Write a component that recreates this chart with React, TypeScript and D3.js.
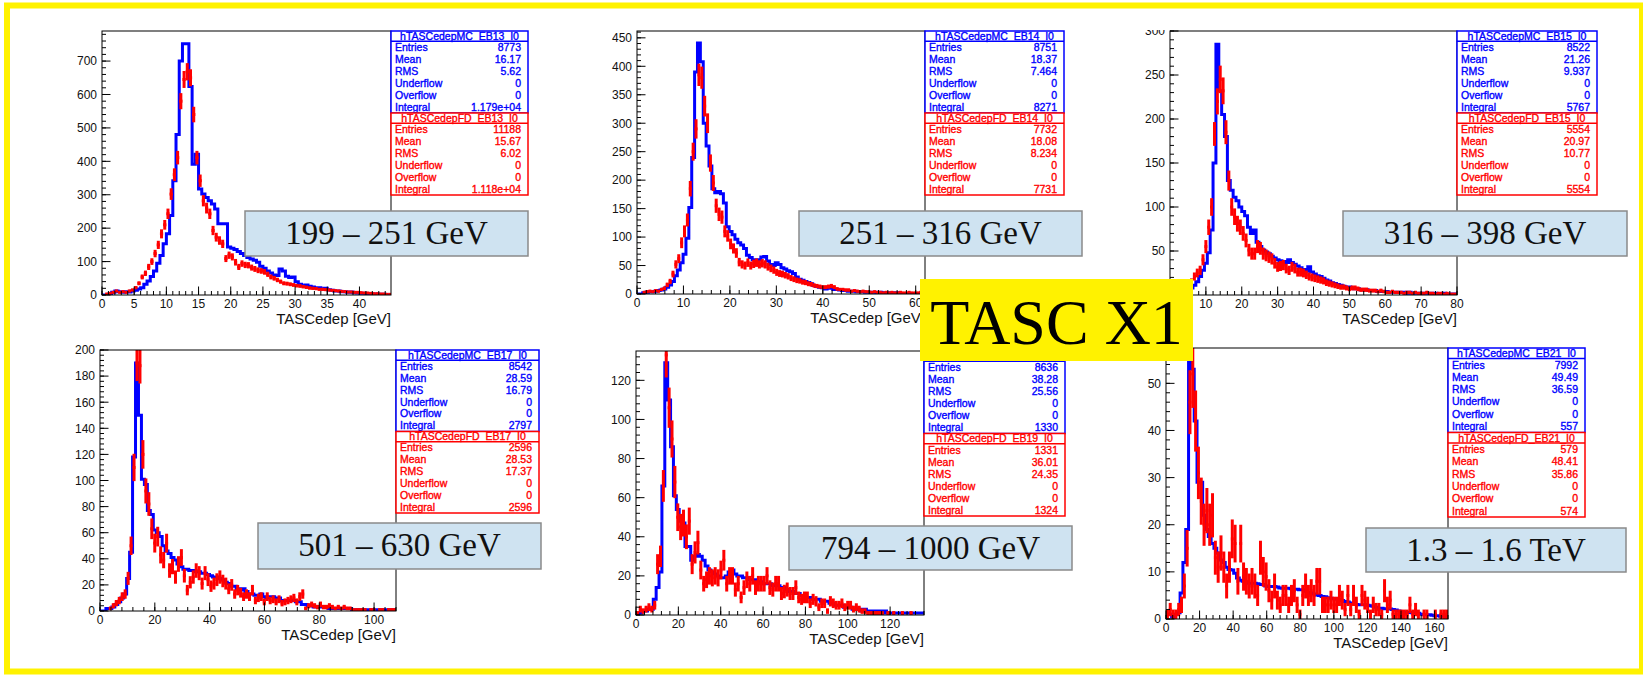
import React from "react";
import * as d3 from "d3";

// ---- Histogram contents (bin counts, bins start at 0 GeV) ----
const mcEB13 = [0,0,2,8,12,10,8,10,9,12,
  14,18,22,32,42,55,72,95,118,153,
  183,238,342,480,700,752,752,624,391,421,
  317,302,292,282,272,257,213,213,213,144,
  140,136,130,124,118,112,108,104,98,86,
  80,72,66,60,58,78,72,56,52,54,
  40,32,28,30,26,24,22,22,18,20,
  16,14,12,12,10,10,8,9,7,6,
  5,5,4,4,3,3,2,2,1,1];
const fdEB13 = [0,3,5,8,12,8,10,8,12,15,
  22,35,54,65,84,100,124,150,183,210,
  243,302,360,411,580,645,668,650,540,411,
  342,282,260,243,193,173,163,153,109,119,
  114,98,84,94,90,89,82,78,74,72,
  69,62,54,50,45,40,35,34,32,30,
  28,27,25,23,21,20,19,17,17,16,
  15,14,13,12,11,10,9,9,8,8,
  7,6,6,5,4,4,3,3,2,2];

const mcEB14 = [0,0,2,3,4,4,5,6,7,9,
  12,16,22,32,42,55,70,98,152,240,
  390,441,408,300,260,225,185,178,180,176,
  160,118,110,104,96,90,86,80,68,64,
  60,58,60,65,66,58,52,50,55,52,
  46,44,41,39,36,30,26,24,22,20,
  18,15,13,12,11,9,10,10,8,8,
  7,6,6,5,5,5,4,4,4,3,
  3,3,3,2,3,2,2,2,2,1,
  2,1,1,1,1,1,1,1,0,1];
const fdEB14 = [0,0,3,4,5,4,6,5,8,10,
  16,22,35,52,62,90,110,130,185,250,
  290,385,380,330,300,230,195,155,140,135,
  110,102,88,80,72,56,52,50,55,50,
  53,55,52,54,52,48,45,42,38,36,
  35,33,31,28,26,24,23,21,20,18,
  17,15,14,13,12,12,13,14,12,9,
  8,8,7,7,5,6,5,4,5,4,
  4,3,4,3,3,2,3,2,3,2,
  2,3,2,2,3,2,2,2,3,2];

const mcEB15 = [0,0,1,2,3,4,6,8,11,15,
  21,28,36,48,74,150,285,232,205,180,
  130,119,111,107,100,95,90,77,70,74,
  60,55,51,49,47,44,42,40,39,38,
  37,40,37,35,33,31,29,27,32,26,
  24,22,21,19,17,16,14,13,12,11,
  10,9,9,8,7,7,6,6,6,5,
  5,5,4,4,4,4,3,3,3,3,
  3,3,2,3,2,2,2,2,2,2,
  2,1,2,1,1,2,1,1,1,1];
const fdEB15 = [0,1,2,3,5,7,10,15,21,25,
  28,40,55,77,100,183,220,245,232,185,
  130,100,89,81,77,70,62,51,47,47,
  55,53,47,45,43,41,36,32,33,34,
  30,28,32,30,26,26,25,23,21,20,
  19,18,17,16,14,13,12,11,10,9,
  9,8,7,8,8,7,6,6,6,5,
  5,5,4,5,4,3,3,4,3,3,
  3,2,3,3,2,3,2,2,2,3,
  2,2,1,2,2,1,2,1,1,1];

const mcEB17 = [0,0,2,2,3,5,7,10,13,25,
  45,118,190,150,101,97,77,74,62,60,
  57,50,46,44,41,39,36,34,32,32,
  31,31,30,30,29,29,28,27,26,26,
  25,24,22,21,19,19,17,16,17,15,
  13,13,12,12,13,11,10,11,11,10,
  10,8,8,8,8,8,7,7,5,5,
  4,4,3,3,3,3,3,2,2,2,
  2,2,2,2,2,1,1,1,1,1,
  1,1,1,1,1,1,1,1,1,1];
const fdEB17 = [0,0,0,2,4,6,8,11,13,25,
  50,110,190,188,120,92,82,63,52,57,
  43,39,52,31,34,26,36,41,27,16,
  22,26,31,29,21,29,24,19,21,24,
  26,23,21,17,20,13,16,14,11,13,
  11,16,8,10,11,7,11,8,9,7,
  9,6,7,8,9,10,7,11,13,2,
  4,5,4,3,5,3,3,4,3,2,
  3,2,3,2,2,1,1,1,1,1,
  0,1,1,0,1,1,0,1,1,1];

const mcEB19 = [0,1,2,2,3,3,8,14,22,66,
  129,110,86,61,54,48,47,35,35,28,
  30,31,30,28,25,23,22,21,20,19,
  19,20,22,23,21,20,20,19,19,18,
  18,18,17,17,16,16,16,15,15,15,
  14,14,13,12,12,11,11,10,10,9,
  9,8,8,8,7,7,7,6,6,5,
  5,5,4,4,4,3,3,3,2,3,
  2,2,2,2,2,1,2,1,1,1,
  1,1,1,1,1,1,1,1,1,1];
const fdEB19 = [1,3,2,3,4,3,5,26,30,66,
  133,106,90,68,50,45,47,40,48,26,
  32,37,23,16,18,20,19,20,19,23,
  28,16,20,20,13,16,9,14,18,16,
  20,14,16,16,16,20,14,13,16,16,
  11,12,13,11,11,14,9,8,9,9,
  6,8,7,4,6,6,2,7,6,5,
  5,6,4,5,5,3,4,3,2,2,
  1,1,1,1,1,1,0,1,0,1,
  0,0,1,0,0,1,0,0,0,0];

const mcEB21 = [1,1,0.5,1,1.3,5.5,12,19,55,53,
  42,29,29,22,19,17.5,16,15,14,12.5,
  12,11,10.5,10.4,9.7,8.7,8.2,8,7.8,7.6,
  7.6,7.6,7.5,7.3,7.3,7,6.9,6.9,6.9,6.8,
  6.6,6.5,6.5,6.5,6.4,6.3,6.3,6.2,6.2,5.9,
  5.6,5.5,5.3,5.1,5,4.8,4.7,4.5,4.4,4.3,
  4.2,4.1,3.9,3.7,3.6,3.4,3.3,3.1,3,3,
  3,2.9,2.8,2.7,2.5,2.3,2.3,2.2,2.2,2.1,
  2,1.9,1.7,1.6,1.5,1.4,1.4,1.3,1.3,1.2,
  1,0.9,0.9,0.9,0.8,0.7,0.7,0.6,0.6,0.5];
const fdEB21 = [1,2,1,1,2,3,7,15,46,52,
  42,31,25,20,23,20,22,13,11,14,
  11,7,11,17,16,8,16,9,8,7,
  8,7,5,13,10,9,6,4,7,4,
  3,5,5,3,5,6,3,1,5,7,
  5,6,5,8,8,3,3,3,4,3,
  3,5,4,2,5,2,5,3,1,5,
  4,3,1,3,2,2,1,6,3,4,
  1,1,1,1,1,1,3,1,2,1,
  0,1,1,0,0,1,0,1,1,1];

const mcSeries = [mcEB13, mcEB14, mcEB15, mcEB17, mcEB19, mcEB21];
const fdSeries = [fdEB13, fdEB14, fdEB15, fdEB17, fdEB19, fdEB21];

// ---- Axis settings ----
const binWidth = [0.5, 0.62, 0.8, 1.08, 1.36, 1.68];
const xMax = [44.9, 62, 80, 108, 136, 168];
const yMax = [790, 462, 300, 200, 135, 57.5];
const xStep = [5, 10, 10, 20, 20, 20];
const yStep = [100, 50, 50, 20, 20, 10];
const xTitle = "TASCedep [GeV]";

// ---- Energy ranges ----
const energyLabels = ["199 – 251 GeV", "251 – 316 GeV", "316 – 398 GeV", "501 – 630 GeV", "794 – 1000 GeV", "1.3 – 1.6 TeV"];

// ---- Statistics boxes ----
const statRows = ["Entries", "Mean", "RMS", "Underflow", "Overflow", "Integral"];
const mcTitles = ["hTASCedepMC_EB13_I0", "hTASCedepMC_EB14_I0", "hTASCedepMC_EB15_I0", "hTASCedepMC_EB17_I0", "hTASCedepMC_EB19_I0", "hTASCedepMC_EB21_I0"];
const fdTitles = ["hTASCedepFD_EB13_I0", "hTASCedepFD_EB14_I0", "hTASCedepFD_EB15_I0", "hTASCedepFD_EB17_I0", "hTASCedepFD_EB19_I0", "hTASCedepFD_EB21_I0"];
const mcStats = [
  ["8773", "16.17", "5.62", "0", "0", "1.179e+04"],
  ["8751", "18.37", "7.464", "0", "0", "8271"],
  ["8522", "21.26", "9.937", "0", "0", "5767"],
  ["8542", "28.59", "16.79", "0", "0", "2797"],
  ["8636", "38.28", "25.56", "0", "0", "1330"],
  ["7992", "49.49", "36.59", "0", "0", "557"],
];
const fdStats = [
  ["11188", "15.67", "6.02", "0", "0", "1.118e+04"],
  ["7732", "18.08", "8.234", "0", "0", "7731"],
  ["5554", "20.97", "10.77", "0", "0", "5554"],
  ["2596", "28.53", "17.37", "0", "0", "2596"],
  ["1331", "36.01", "24.35", "0", "0", "1324"],
  ["579", "48.41", "35.86", "0", "0", "574"],
];

const pageTitle = "TASC X1";

// ---- Page geometry ----
const W = 1643;
const H = 675;
const titleBox = { x0: 920, x1: 1193, y0: 279, y1: 361 };
const layout = [
  { fx0: 102, fx1: 391, fy0: 31, fy1: 295, sx0: 391, sx1: 528, sy0: 31, sy1: 195, lx0: 245, lx1: 528, ly0: 211, ly1: 256, clipTop: 0 },
  { fx0: 637, fx1: 925, fy0: 31, fy1: 294, sx0: 925, sx1: 1064, sy0: 31, sy1: 195, lx0: 799, lx1: 1082, ly0: 211, ly1: 256, clipTop: 0 },
  { fx0: 1170, fx1: 1457, fy0: 31, fy1: 295, sx0: 1457, sx1: 1597, sy0: 31, sy1: 195, lx0: 1343, lx1: 1627, ly0: 211, ly1: 256, clipTop: 30 },
  { fx0: 100, fx1: 396, fy0: 350, fy1: 611, sx0: 396, sx1: 539, sy0: 350, sy1: 513, lx0: 258, lx1: 541, ly0: 523, ly1: 569, clipTop: 0 },
  { fx0: 636, fx1: 924, fy0: 351, fy1: 615, sx0: 924, sx1: 1065, sy0: 351, sy1: 516, lx0: 789, lx1: 1072, ly0: 526, ly1: 570, clipTop: 0 },
  { fx0: 1166, fx1: 1448, fy0: 348, fy1: 619, sx0: 1448, sx1: 1585, sy0: 348, sy1: 517, lx0: 1366, lx1: 1626, ly0: 528, ly1: 572, clipTop: 0 },
];

const SANS = "'Liberation Sans', Arial, Helvetica, sans-serif";
const SERIF = "'Liberation Serif', 'Times New Roman', serif";
const BLUE = "#0000ff";
const RED = "#ff0000";
const YELLOW = "#fff200";

// Texts whose anchor sits under the yellow title plate are never visible.
const underTitle = (x: number, y: number) =>
  x > titleBox.x0 && x < titleBox.x1 && y > titleBox.y0 && y < titleBox.y1 + 6;

function StatBox({ x0, x1, y0, y1, color, title, values }) {
  const h = y1 - y0;
  const th = h * 0.125;
  const rh = (h - th) / statRows.length;
  const txt = { fontFamily: SANS, fontSize: 10.5, fill: color, stroke: color, strokeWidth: 0.35 };
  const tx = (x0 + x1) / 2;
  const ty = y0 + th / 2 + 3.8;
  return (
    <g>
      <rect x={x0} y={y0} width={x1 - x0} height={h} fill="#ffffff" stroke={color} strokeWidth={1.5} />
      <line x1={x0} x2={x1} y1={y0 + th} y2={y0 + th} stroke={color} strokeWidth={1.5} />
      {!underTitle(tx, ty) && <text x={tx} y={ty} textAnchor="middle" {...txt}>{title}</text>}
      {statRows.map((r, i) => (
        <g key={r}>
          <text x={x0 + 4} y={y0 + th + rh * (i + 0.5) + 3.8} {...txt}>{r}</text>
          <text x={x1 - 7} y={y0 + th + rh * (i + 0.5) + 3.8} textAnchor="end" {...txt}>{values[i]}</text>
        </g>
      ))}
    </g>
  );
}

function HistPanel({ idx }) {
  const L = layout[idx];
  const mc = mcSeries[idx];
  const fd = fdSeries[idx];
  const bw = binWidth[idx];
  const x = d3.scaleLinear().domain([0, xMax[idx]]).range([L.fx0, L.fx1]);
  const y = d3.scaleLinear().domain([0, yMax[idx]]).range([L.fy1, L.fy0]);

  const pts: [number, number][] = mc.map((v, i) => [i * bw, v]);
  pts.push([mc.length * bw, mc[mc.length - 1]]);
  const stepLine = d3.line<[number, number]>().x((d) => x(d[0])).y((d) => y(d[1])).curve(d3.curveStepAfter);

  const xs = xStep[idx];
  const ys = yStep[idx];
  const xMajor = d3.range(0, xMax[idx] + 1e-6, xs);
  const xMinor = d3.range(0, xMax[idx] + 1e-6, xs / 5);
  const yMajor = d3.range(0, yMax[idx] + 1e-6, ys);
  const yMinor = d3.range(0, yMax[idx] + 1e-6, ys / 5);

  const clipId = `frame-clip-${idx}`;
  const labClipId = `ylab-clip-${idx}`;
  const mid = L.sy0 + (L.sy1 - L.sy0) / 2;

  return (
    <g>
      <defs>
        <clipPath id={clipId}>
          <rect x={L.fx0} y={L.fy0} width={L.fx1 - L.fx0} height={L.fy1 - L.fy0} />
        </clipPath>
        <clipPath id={labClipId}>
          <rect x={0} y={L.clipTop} width={W} height={H} />
        </clipPath>
      </defs>

      <g clipPath={`url(#${clipId})`}>
        <path d={stepLine(pts) || ""} fill="none" stroke={BLUE} strokeWidth={3} />
        {fd.map((v, i) => {
          if (v <= 0) return null;
          const e = Math.sqrt(v);
          const xc = x((i + 0.5) * bw);
          return (
            <g key={i}>
              <line x1={x(i * bw)} x2={x((i + 1) * bw)} y1={y(v)} y2={y(v)} stroke={RED} strokeWidth={3} />
              <line x1={xc} x2={xc} y1={y(v - e)} y2={y(v + e)} stroke={RED} strokeWidth={3} />
            </g>
          );
        })}
      </g>

      <rect x={L.fx0} y={L.fy0} width={L.fx1 - L.fx0} height={L.fy1 - L.fy0} fill="none" stroke="#000" strokeWidth={1} />

      {/* y axis ticks */}
      {yMinor.map((v) => (
        <line key={`ym${v}`} x1={L.fx0} x2={L.fx0 + 4} y1={y(v)} y2={y(v)} stroke="#000" strokeWidth={1} />
      ))}
      {yMajor.map((v) => (
        <line key={`yM${v}`} x1={L.fx0} x2={L.fx0 + 8.5} y1={y(v)} y2={y(v)} stroke="#000" strokeWidth={1} />
      ))}
      <g clipPath={`url(#${labClipId})`}>
        {yMajor
          .filter((v) => !underTitle(L.fx0 - 5, y(v)))
          .map((v) => (
            <text key={`yl${v}`} x={L.fx0 - 5} y={y(v) + 4.3} textAnchor="end" fontFamily={SANS} fontSize={12} fill="#111">{v}</text>
          ))}
      </g>

      {/* x axis ticks */}
      {xMinor.map((v) => (
        <line key={`xm${v}`} x1={x(v)} x2={x(v)} y1={L.fy1} y2={L.fy1 - 4} stroke="#000" strokeWidth={1} />
      ))}
      {xMajor.map((v) => (
        <line key={`xM${v}`} x1={x(v)} x2={x(v)} y1={L.fy1} y2={L.fy1 - 8.5} stroke="#000" strokeWidth={1} />
      ))}
      {xMajor
        .filter((v) => !underTitle(x(v), L.fy1 + 9))
        .map((v) => (
          <text key={`xl${v}`} x={x(v)} y={L.fy1 + 13} textAnchor="middle" fontFamily={SANS} fontSize={12} fill="#111">{v}</text>
        ))}
      <text x={L.fx1} y={L.fy1 + 29} textAnchor="end" fontFamily={SANS} fontSize={15} fill="#111">{xTitle}</text>

      <StatBox x0={L.sx0} x1={L.sx1} y0={L.sy0} y1={mid} color={BLUE} title={mcTitles[idx]} values={mcStats[idx]} />
      <StatBox x0={L.sx0} x1={L.sx1} y0={mid} y1={L.sy1} color={RED} title={fdTitles[idx]} values={fdStats[idx]} />

      <rect x={L.lx0} y={L.ly0} width={L.lx1 - L.lx0} height={L.ly1 - L.ly0} fill="#cfe3f1" stroke="#8a8a8a" strokeWidth={1.5} />
      <text x={(L.lx0 + L.lx1) / 2} y={L.ly0 + 33} textAnchor="middle" fontFamily={SERIF} fontSize={33} fill="#111">{energyLabels[idx]}</text>
    </g>
  );
}

export default function App() {
  return (
    <svg width={W} height={H} viewBox={`0 0 ${W} ${H}`} style={{ position: "absolute", left: 0, top: 0, background: "#fff" }}>
      <rect x={0} y={0} width={W} height={H} fill="#ffffff" />
      {mcSeries.map((_, i) => (
        <HistPanel key={i} idx={i} />
      ))}
      <rect x={titleBox.x0} y={titleBox.y0} width={titleBox.x1 - titleBox.x0} height={titleBox.y1 - titleBox.y0} fill={YELLOW} />
      <text x={(titleBox.x0 + titleBox.x1) / 2} y={344} textAnchor="middle" fontFamily={SERIF} fontSize={64} fill="#000">{pageTitle}</text>
      <rect x={7} y={5.5} width={1635} height={666} fill="none" stroke={YELLOW} strokeWidth={6} />
    </svg>
  );
}
